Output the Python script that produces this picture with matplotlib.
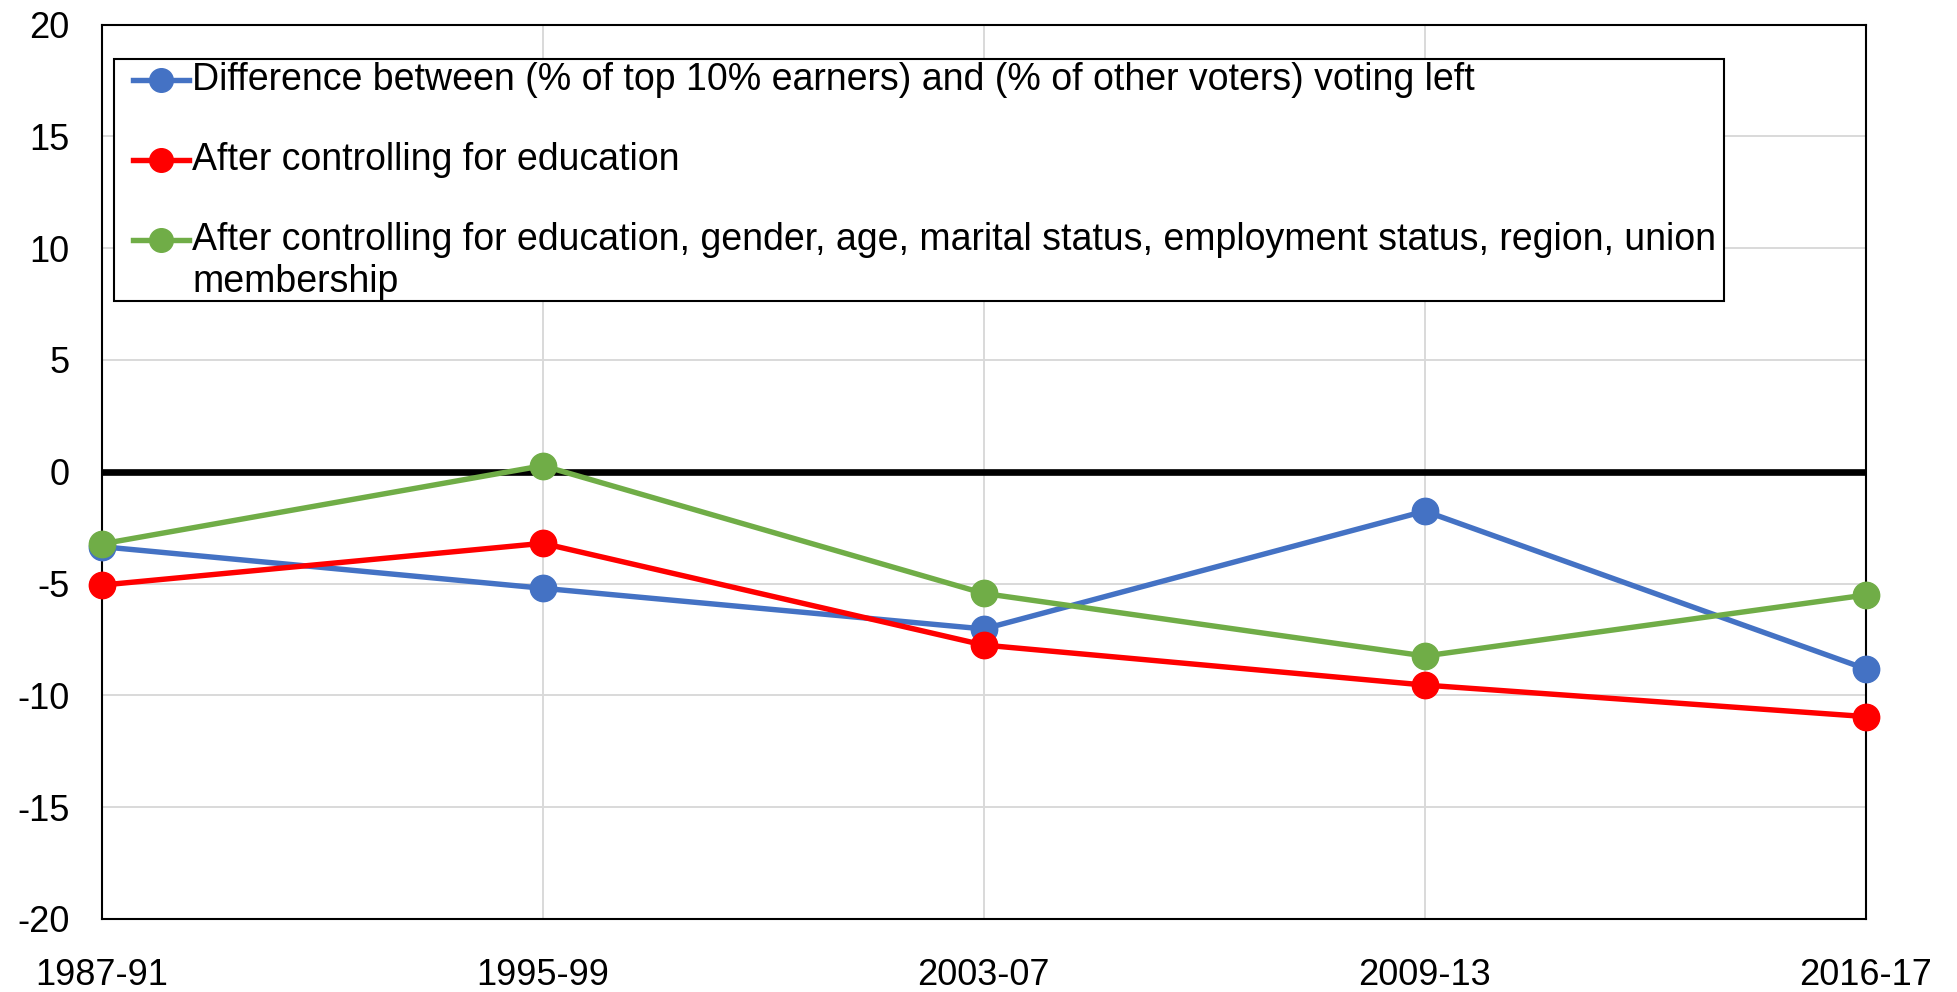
import matplotlib
matplotlib.use('Agg')
import matplotlib.pyplot as plt
from matplotlib.patches import Rectangle

# Data
periods = ['1987-91', '1995-99', '2003-07', '2009-13', '2016-17']
diff_top10 = [-3.35, -5.21, -7.03, -1.76, -8.82]
ctrl_edu = [-5.07, -3.20, -7.75, -9.54, -10.95]
ctrl_all = [-3.23, 0.27, -5.44, -8.24, -5.51]

labels = [
    'Difference between (% of top 10% earners) and (% of other voters) voting left',
    'After controlling for education',
    'After controlling for education, gender, age, marital status, employment status, region, union',
]
label_extra = 'membership'
colors = ['#4472C4', '#FF0000', '#70AD47']
y_ticks = [-20, -15, -10, -5, 0, 5, 10, 15, 20]

plt.rcParams['font.family'] = ['Liberation Sans', 'DejaVu Sans']
plt.rcParams['axes.unicode_minus'] = False

fig = plt.figure(figsize=(19.57, 9.92), dpi=100)
ax = fig.add_axes([0.0519, 0.0736, 0.9016, 0.9017])

x = list(range(len(periods)))
ax.axhline(0, color='black', lw=4.8, zorder=2)
for vals, c in zip([diff_top10, ctrl_edu, ctrl_all], colors):
    ax.plot(x, vals, color=c, lw=3.9, marker='o', ms=19, zorder=3, clip_on=False)

ax.set_xlim(0, len(periods) - 1)
ax.set_ylim(-20, 20)
ax.set_xticks(x)
ax.set_xticklabels(periods)
ax.set_yticks(y_ticks)
ax.tick_params(axis='both', length=0, labelsize=26)
ax.tick_params(axis='x', pad=28)
ax.tick_params(axis='y', pad=23)
ax.grid(True, color='#d9d9d9', lw=1.4, zorder=0)
ax.set_axisbelow(True)
for s in ax.spines.values():
    s.set_color('black')
    s.set_linewidth(1.5)

# hand made legend box, placed like the Excel one
box = Rectangle((0.0069, 0.6909), 0.9126, 0.2705, transform=ax.transAxes,
                facecolor='white', edgecolor='black', lw=1.5, zorder=5)
ax.add_patch(box)
rows = [0.9380, 0.8485, 0.7591]
for lab, c, yy in zip(labels, colors, rows):
    ax.plot([0.0179, 0.0496], [yy, yy], color=c, lw=3.9, transform=ax.transAxes,
            zorder=6, clip_on=False)
    ax.plot([0.0337], [yy], color=c, marker='o', ms=17, transform=ax.transAxes,
            zorder=7, clip_on=False)
    ax.text(0.0513, yy, lab, transform=ax.transAxes, va='center', ha='left',
            fontsize=27, zorder=8)
ax.text(0.0513, 0.7121, label_extra, transform=ax.transAxes, va='center', ha='left',
        fontsize=27, zorder=8)

fig.savefig('out.png', dpi=100)
